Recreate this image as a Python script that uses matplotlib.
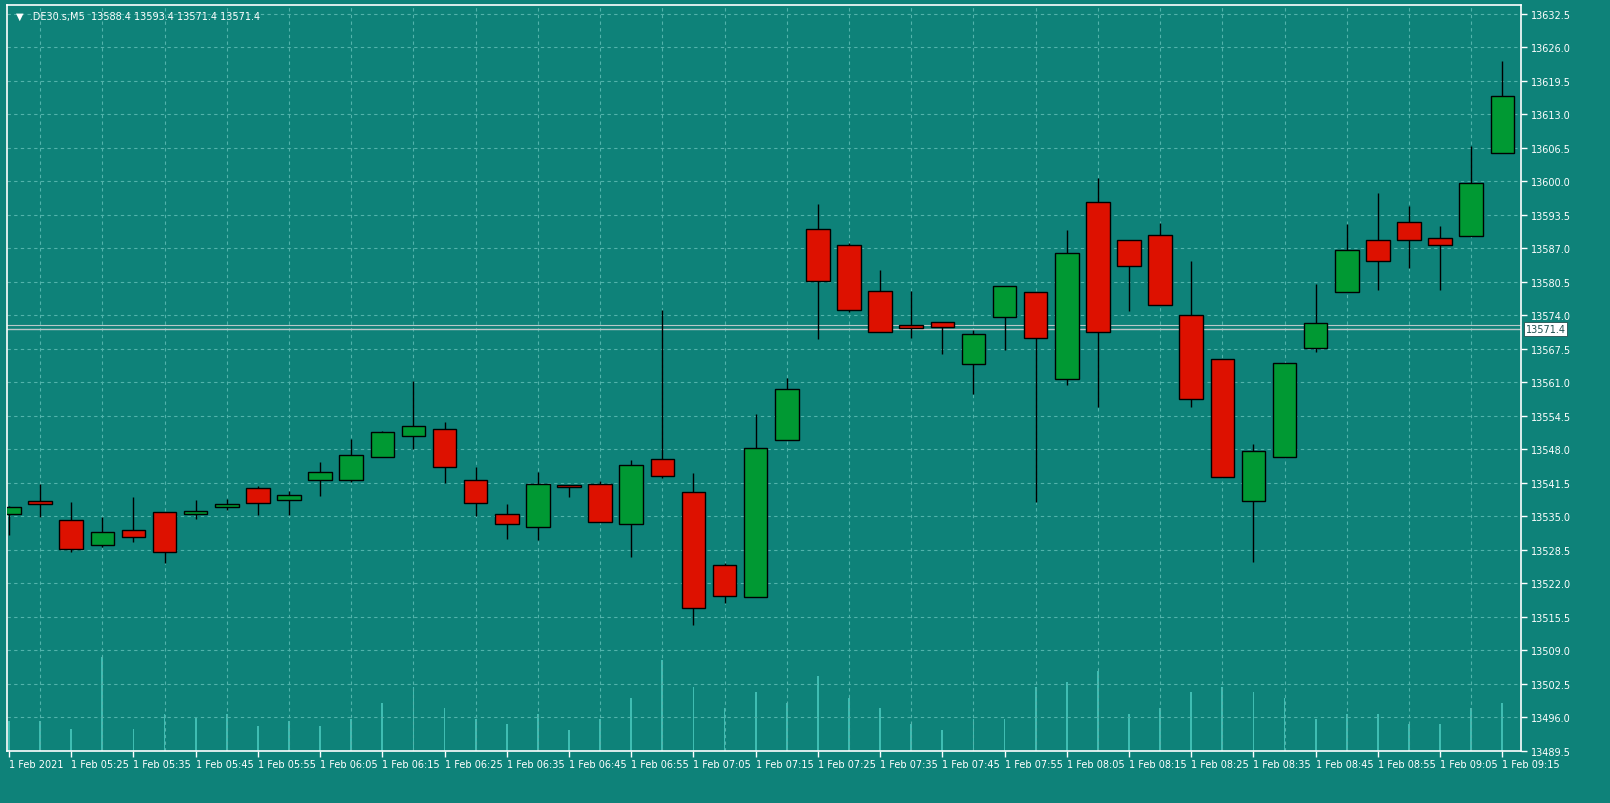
import matplotlib
matplotlib.use("Agg")
import matplotlib.pyplot as plt
from matplotlib.patches import Rectangle

opens  = [13535.5,13538.0,13534.3,13529.5,13532.4,13535.9,13535.5,13536.8,13540.5,13538.2,
          13542.1,13542.1,13546.5,13550.6,13551.9,13542.1,13535.5,13533.0,13540.9,13541.3,
          13533.6,13546.1,13539.7,13525.6,13519.3,13549.8,13590.8,13587.7,13578.8,13572.2,
          13572.8,13564.5,13573.6,13578.6,13561.6,13596.0,13588.6,13589.6,13574.1,13565.6,
          13538.0,13546.5,13567.6,13578.6,13588.6,13592.1,13589.0,13589.4,13605.4]
highs  = [13537.0,13541.3,13537.8,13534.9,13538.8,13535.9,13538.2,13538.4,13540.9,13539.9,
          13545.5,13550.0,13551.5,13561.2,13553.3,13544.6,13537.4,13543.6,13540.9,13541.9,
          13545.9,13575.1,13543.4,13526.0,13554.8,13561.8,13595.6,13588.1,13582.8,13578.8,
          13572.8,13571.1,13579.7,13578.6,13590.6,13600.6,13588.6,13591.9,13584.6,13565.6,
          13549.0,13564.7,13580.1,13591.7,13597.7,13595.2,13591.3,13606.8,13623.4]
lows   = [13531.4,13534.9,13528.1,13529.1,13530.1,13526.0,13534.5,13536.3,13535.3,13535.3,
          13539.0,13541.7,13546.5,13548.1,13541.5,13535.1,13530.6,13530.5,13538.8,13534.0,
          13527.2,13542.4,13514.0,13518.3,13519.3,13549.8,13569.5,13574.7,13570.7,13569.7,
          13566.6,13558.7,13567.2,13537.8,13560.4,13556.2,13574.9,13576.1,13556.2,13542.6,
          13526.2,13546.5,13566.8,13578.6,13579.0,13583.2,13579.0,13589.4,13605.4]
closes = [13536.8,13537.4,13528.7,13532.0,13531.1,13528.1,13536.1,13537.4,13537.6,13539.2,
          13543.6,13546.9,13551.3,13552.5,13544.6,13537.6,13533.6,13541.3,13540.7,13534.0,
          13545.0,13542.8,13517.3,13519.6,13548.2,13559.7,13580.7,13575.1,13570.7,13571.6,
          13571.8,13570.3,13579.7,13569.7,13586.1,13570.7,13583.6,13576.1,13557.7,13542.6,
          13547.7,13564.7,13572.6,13586.7,13584.6,13588.6,13587.7,13599.7,13616.6]
volumes = [28,28,21,88,21,35,32,35,23,28,23,30,45,60,40,30,25,35,20,30,
           50,85,60,40,55,45,70,50,40,25,20,30,30,60,65,75,35,40,55,60,
           55,50,30,35,35,25,25,40,45]
time_labels = ["1 Feb 2021","1 Feb 05:25","1 Feb 05:35","1 Feb 05:45","1 Feb 05:55",
               "1 Feb 06:05","1 Feb 06:15","1 Feb 06:25","1 Feb 06:35","1 Feb 06:45",
               "1 Feb 06:55","1 Feb 07:05","1 Feb 07:15","1 Feb 07:25","1 Feb 07:35",
               "1 Feb 07:45","1 Feb 07:55","1 Feb 08:05","1 Feb 08:15","1 Feb 08:25",
               "1 Feb 08:35","1 Feb 08:45","1 Feb 08:55","1 Feb 09:05","1 Feb 09:15"]
y_ticks = [13489.5 + 6.5 * k for k in range(23)]
last_price = 13571.4
header = "▼  .DE30.s,M5  13588.4 13593.4 13571.4 13571.4"

BG = "#0e8279"
GRID = "#52b3ab"
UP = "#009933"
DN = "#dd1100"

fig = plt.figure(figsize=(16.1, 8.04), dpi=100, facecolor=BG)
ax = fig.add_axes([7/1610, 52/804, (1521-7)/1610, (752-6)/804])
ax.set_facecolor(BG)

axv = ax.twinx()
axv.set_ylim(0, 700)
axv.bar(range(len(volumes)), volumes, width=0.06, color="#3fbdb2", zorder=0)
axv.axis("off")
ax.set_zorder(axv.get_zorder() + 1)
ax.patch.set_visible(False)
fig.patches.append(Rectangle((7/1610, 52/804), (1521-7)/1610, (752-6)/804,
                             transform=fig.transFigure, facecolor=BG, zorder=-5))

w = 0.76
for i, (o, h, l, c) in enumerate(zip(opens, highs, lows, closes)):
    col = UP if c >= o else DN
    ax.vlines(i, l, h, color="black", lw=1, zorder=3)
    ax.add_patch(Rectangle((i - w/2, min(o, c)), w, max(abs(c - o), 0.4),
                           facecolor=col, edgecolor="black", lw=1, zorder=4))

ax.set_xlim(-0.064, 48.6)
ax.set_ylim(13490.1, 13634.2)
ax.set_yticks(y_ticks)
ax.set_yticklabels([f"{v:.1f}" for v in y_ticks])
ax.yaxis.tick_right()
ax.set_xticks(range(0, 49, 2))
ax.set_xticklabels(time_labels, ha="left")
ax.set_xticks(range(49), minor=True)
ax.tick_params(colors="white", labelsize=7, length=4, width=1)
ax.tick_params(axis="x", which="minor", length=0)
ax.tick_params(axis="x", pad=2)
ax.grid(True, which="minor", axis="x", color=GRID, ls=(0, (3, 3)), lw=0.8)
ax.grid(True, which="major", axis="y", color=GRID, ls=(0, (3, 3)), lw=0.8)
for s in ax.spines.values():
    s.set_color("white")
    s.set_linewidth(1.2)

ax.axhline(last_price, color="#b8c8c8", lw=1, zorder=2)
ax.axhline(last_price + 0.8, color="#b8c8c8", lw=0.8, zorder=2)
ax.text(1.003, last_price, f"{last_price:.1f}", transform=ax.get_yaxis_transform(),
        va="center", ha="left", fontsize=7, color="#205050",
        bbox=dict(boxstyle="square,pad=0.2", fc="white", ec="#205050", lw=0.6))
ax.text(0.006, 0.992, header, transform=ax.transAxes, va="top", ha="left",
        fontsize=7, color="white")

fig.savefig("out.png", dpi=100, facecolor=BG)
